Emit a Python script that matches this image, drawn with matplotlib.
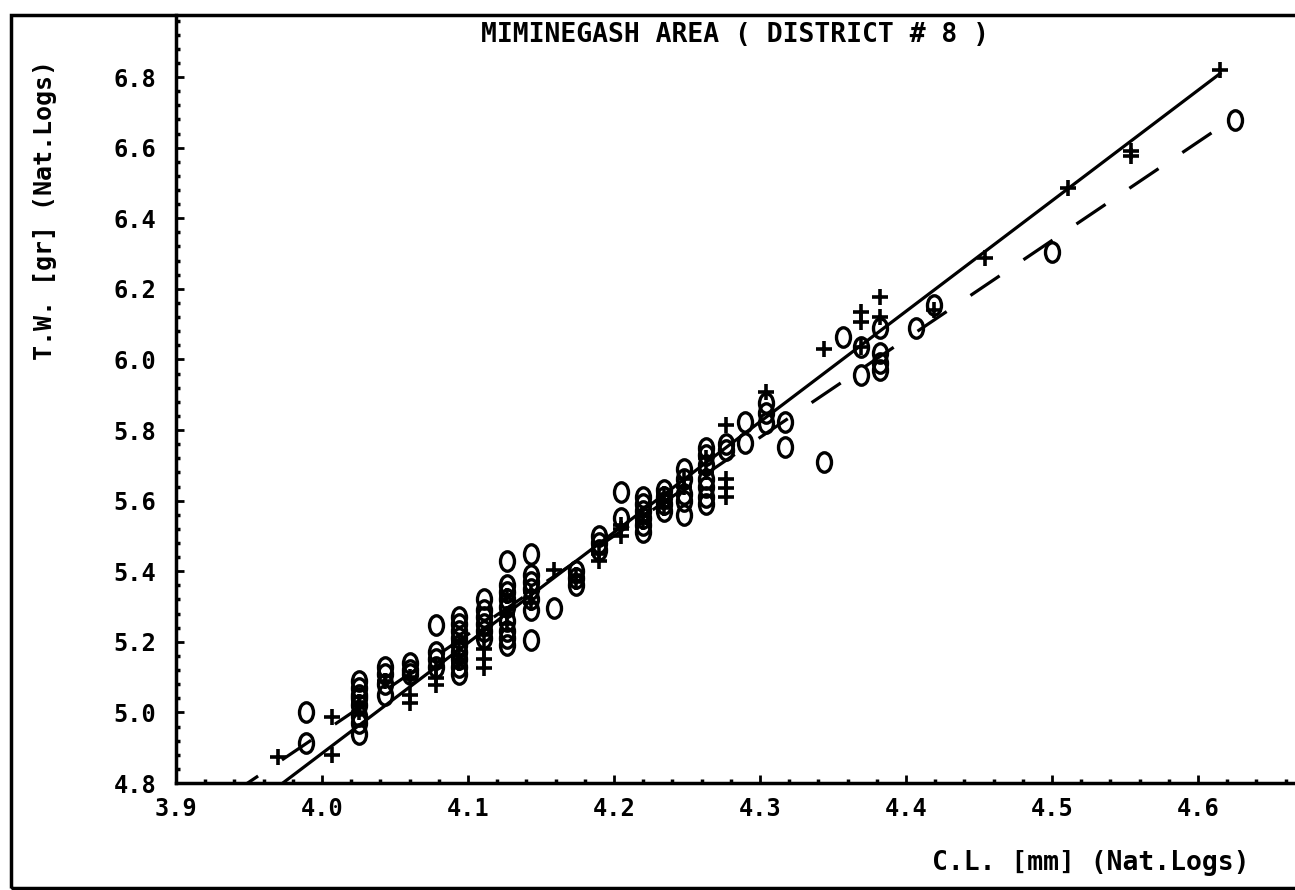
import numpy as np
import matplotlib
matplotlib.use("Agg")
import matplotlib.pyplot as plt
from matplotlib.path import Path
from matplotlib.transforms import Affine2D
from matplotlib.patches import Rectangle

# "+" group (solid regression line)
plus_x = [3.970, 4.007, 4.007, 4.025, 4.025, 4.043,
          4.060, 4.060, 4.060, 4.078, 4.078, 4.078,
          4.094, 4.094, 4.094, 4.111, 4.111, 4.111, 4.111,
          4.127, 4.127, 4.127, 4.143, 4.143, 4.159,
          4.174, 4.174, 4.190, 4.190, 4.205, 4.205, 4.205,
          4.220, 4.220, 4.234, 4.234, 4.234, 4.248, 4.248,
          4.263, 4.263, 4.277, 4.277, 4.277, 4.277, 4.304,
          4.344, 4.369, 4.369, 4.369, 4.382, 4.382, 4.419,
          4.454, 4.511, 4.554, 4.554, 4.615]
plus_y = [4.874, 4.987, 4.880, 5.000, 5.030, 5.090,
          5.050, 5.027, 5.100, 5.097, 5.078, 5.130,
          5.140, 5.160, 5.200, 5.150, 5.125, 5.180, 5.220,
          5.330, 5.280, 5.250, 5.340, 5.310, 5.403,
          5.390, 5.370, 5.450, 5.430, 5.520, 5.500, 5.530,
          5.560, 5.540, 5.620, 5.580, 5.600, 5.660, 5.640,
          5.720, 5.680, 5.660, 5.636, 5.610, 5.814, 5.908,
          6.030, 6.134, 6.106, 6.035, 6.177, 6.120, 6.140,
          6.287, 6.486, 6.575, 6.590, 6.820]

# "O" group (dashed regression line)
circ_x = [3.989, 3.989,
          4.025, 4.025, 4.025, 4.025, 4.025, 4.025, 4.025, 4.025,
          4.043, 4.043, 4.043, 4.043,
          4.060, 4.060, 4.060,
          4.078, 4.078, 4.078, 4.078,
          4.094, 4.094, 4.094, 4.094, 4.094, 4.094, 4.094, 4.094, 4.094,
          4.111, 4.111, 4.111, 4.111, 4.111, 4.111,
          4.127, 4.127, 4.127, 4.127, 4.127, 4.127, 4.127, 4.127, 4.127,
          4.143, 4.143, 4.143, 4.143, 4.143, 4.143, 4.143,
          4.159, 4.174, 4.174, 4.174, 4.190, 4.190, 4.190,
          4.205, 4.205,
          4.220, 4.220, 4.220, 4.220, 4.220, 4.220,
          4.234, 4.234, 4.234, 4.234,
          4.248, 4.248, 4.248, 4.248, 4.248,
          4.263, 4.263, 4.263, 4.263, 4.263, 4.263, 4.263,
          4.277, 4.277, 4.290, 4.290, 4.304, 4.304, 4.304,
          4.317, 4.317, 4.344, 4.357, 4.369, 4.369,
          4.382, 4.382, 4.382, 4.382, 4.407, 4.419, 4.500, 4.625]
circ_y = [5.000, 4.913,
          5.090, 5.070, 5.050, 5.040, 5.020, 4.990, 4.970, 4.940,
          5.130, 5.110, 5.080, 5.050,
          5.140, 5.120, 5.110,
          5.248, 5.170, 5.150, 5.130,
          5.270, 5.250, 5.230, 5.210, 5.190, 5.170, 5.150, 5.130, 5.110,
          5.320, 5.290, 5.270, 5.250, 5.230, 5.210,
          5.430, 5.360, 5.340, 5.320, 5.300, 5.260, 5.230, 5.210, 5.190,
          5.450, 5.390, 5.370, 5.350, 5.320, 5.290, 5.205,
          5.296, 5.400, 5.380, 5.360, 5.500, 5.480, 5.460,
          5.624, 5.550,
          5.610, 5.590, 5.570, 5.550, 5.530, 5.510,
          5.630, 5.610, 5.590, 5.570,
          5.690, 5.660, 5.620, 5.600, 5.560,
          5.750, 5.730, 5.700, 5.660, 5.640, 5.610, 5.590,
          5.743, 5.760, 5.823, 5.763, 5.876, 5.848, 5.820,
          5.823, 5.752, 5.709, 6.063, 6.035, 5.956,
          6.089, 6.018, 5.990, 5.970, 6.090, 6.154, 6.304, 6.678]

# regression lines (intercept, slope)
plus_fit = (-7.640, 3.131)
circ_fit = (-6.218, 2.790)

xticks = [3.9, 4.0, 4.1, 4.2, 4.3, 4.4, 4.5, 4.6]
yticks = [4.8, 5.0, 5.2, 5.4, 5.6, 5.8, 6.0, 6.2, 6.4, 6.6, 6.8]

font = "DejaVu Sans Mono"

fig = plt.figure(figsize=(12.95, 8.9), dpi=100)
ax = fig.add_axes([0.1359, 0.1202, 0.8641, 0.8629])

oval = Path.unit_circle().transformed(Affine2D().scale(0.72, 1.0))

ax.plot(plus_x, plus_y, linestyle="none", marker="+", markersize=12,
        markeredgewidth=2.6, color="black")
ax.plot(circ_x, circ_y, linestyle="none", marker=oval, markersize=14,
        markeredgewidth=2.4, markerfacecolor="none", markeredgecolor="black")

xs = np.linspace(3.9, max(plus_x), 50)
ax.plot(xs, plus_fit[0] + plus_fit[1] * xs, color="black", lw=2.3)
xs = np.linspace(3.9, max(circ_x), 50)
ax.plot(xs, circ_fit[0] + circ_fit[1] * xs, color="black", lw=2.3,
        linestyle=(0, (11, 9)))

ax.set_xlim(3.9, 4.6664)
ax.set_ylim(4.8, 6.9756)
ax.set_xticks(xticks)
ax.set_xticks(np.arange(3.9, 4.67, 0.02), minor=True)
ax.set_yticks(yticks)
ax.set_yticks(np.arange(4.8, 6.98, 0.04), minor=True)
ax.set_xticklabels([f"{v:.1f}" for v in xticks], fontfamily=font,
                   fontweight="bold", fontsize=17)
ax.set_yticklabels([f"{v:.1f}" for v in yticks], fontfamily=font,
                   fontweight="bold", fontsize=17)
ax.tick_params(which="major", direction="in", length=6, width=2, pad=14)
ax.tick_params(axis="x", which="major", pad=10)
ax.tick_params(which="minor", direction="in", length=3, width=2.5)

for s in ["top", "right"]:
    ax.spines[s].set_visible(False)
for s in ["left", "bottom"]:
    ax.spines[s].set_linewidth(2.5)

# outer frame of the page
fig.add_artist(Rectangle((0.0085, 0.0022), 1.0, 0.981, transform=fig.transFigure,
                         fill=False, lw=2.5, edgecolor="black", clip_on=False))

fig.text(0.5676, 0.961, "MIMINEGASH AREA ( DISTRICT # 8 )", ha="center",
         va="center", fontfamily=font, fontweight="bold", fontsize=19)
fig.text(0.965, 0.0303, "C.L. [mm] (Nat.Logs)", ha="right", va="center",
         fontfamily=font, fontweight="bold", fontsize=19)
fig.text(0.035, 1 - 60 / 890, "T.W. [gr] (Nat.Logs)", ha="center", va="top",
         rotation=90, fontfamily=font, fontweight="bold", fontsize=18)

fig.savefig("out.png", dpi=100)
